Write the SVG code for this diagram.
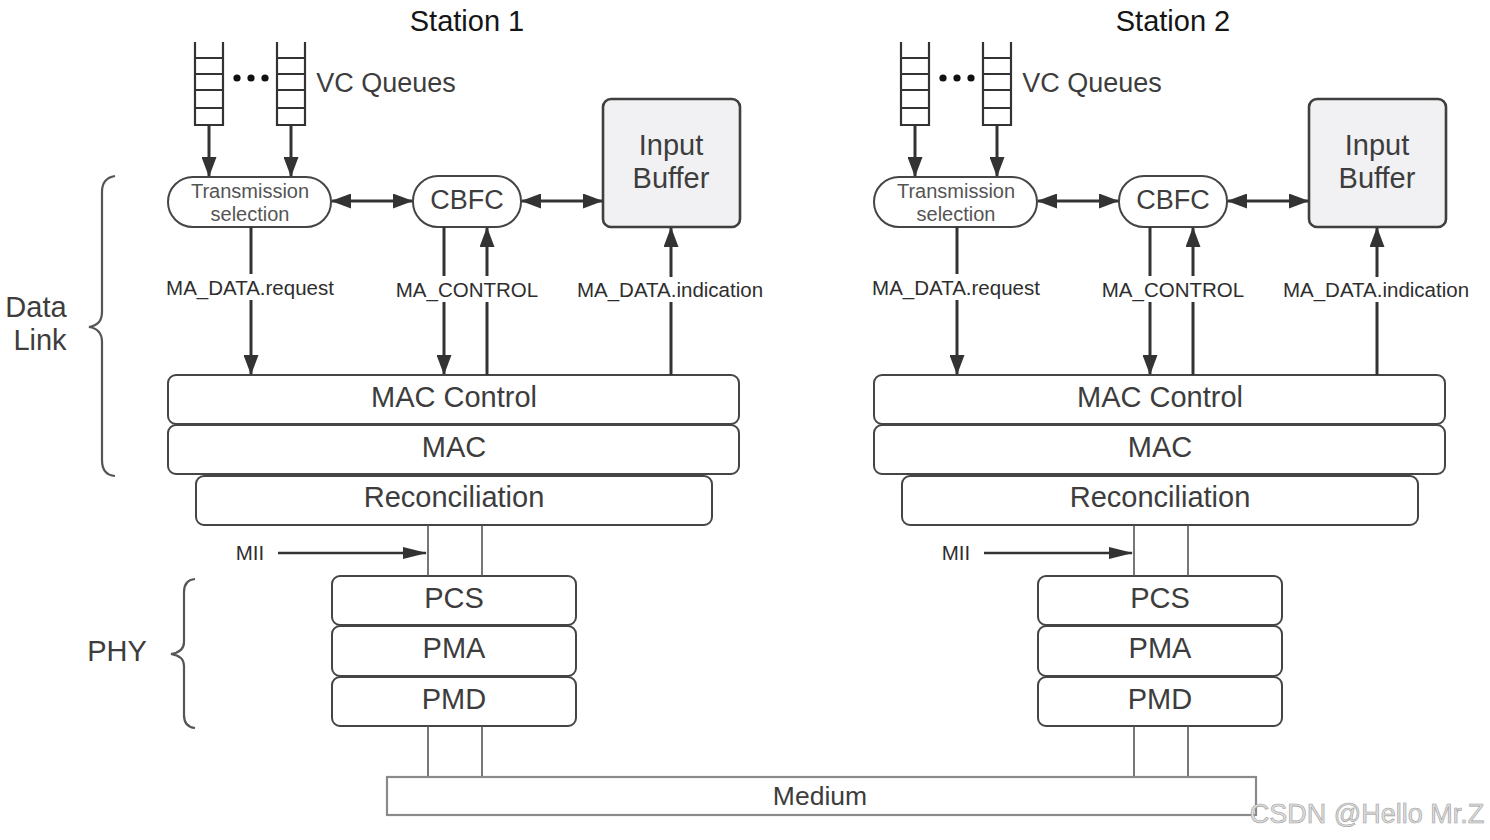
<svg xmlns="http://www.w3.org/2000/svg" width="1490" height="840" viewBox="0 0 1490 840">
<style>
text{font-family:"Liberation Sans",Arial,sans-serif;fill:#3d3d3d;text-anchor:middle;dominant-baseline:central}
.title{font-size:29px;fill:#151515}
.big{font-size:29px}
.mid{font-size:27px}
.sm{font-size:20.5px;fill:#2e2e2e}
.ts{font-size:20px;fill:#555}
.box{fill:#fff;stroke:#454545;stroke-width:2}
.pill{fill:#fff;stroke:#454545;stroke-width:2}
.ib{fill:#f1f1f3;stroke:#3f3f3f;stroke-width:2.6}
.q{fill:none;stroke:#333;stroke-width:2.2}
.arr{fill:none;stroke:#333;stroke-width:3}
.thin{fill:none;stroke:#555;stroke-width:1.6}
.brace{fill:none;stroke:#555;stroke-width:2.2}
.med{fill:#fff;stroke:#8a8a8a;stroke-width:2.2}
</style>
<defs>
<marker id="ah" viewBox="0 0 20 15" refX="19" refY="7.5" markerWidth="20" markerHeight="15" markerUnits="userSpaceOnUse" orient="auto-start-reverse"><path d="M0,0 L20,7.5 L0,15 z" fill="#333"/></marker>
<marker id="ahs" viewBox="0 0 24 12" refX="23" refY="6" markerWidth="24" markerHeight="12" markerUnits="userSpaceOnUse" orient="auto"><path d="M0,0 L24,6 L0,12 z" fill="#333"/></marker>
</defs>
<rect width="1490" height="840" fill="#fff"/>

<!-- Side labels -->
<g id="datalink-brace">
<path class="brace" d="M115,176 Q102,178 102,192 L102,312 Q102,325 89,327 Q102,329 102,342 L102,460 Q102,475 115,476"/>
<text class="big" x="36" y="307">Data</text>
<text class="big" x="40" y="340">Link</text>
</g>
<g id="phy-brace">
<path class="brace" d="M195,579 Q184,580 184,592 L184,642 Q184,652 171,654 Q184,656 184,666 L184,715 Q184,727 195,728"/>
<text class="big" x="117" y="651">PHY</text>
</g>

<!-- Station 1 -->
<g id="station1">
<g id="s1-title"><text class="title" x="467" y="21">Station 1</text></g>
<g id="s1-queues">
<path class="q" d="M195,42 V125 H223 V42 M195,58 H223 M195,74 H223 M195,90 H223 M195,108 H223"/>
<path class="q" d="M277,42 V125 H305 V42 M277,58 H305 M277,74 H305 M277,90 H305 M277,108 H305"/>
<circle cx="237" cy="78" r="3.6" fill="#111"/><circle cx="251" cy="78" r="3.6" fill="#111"/><circle cx="265" cy="78" r="3.6" fill="#111"/>
<text class="mid" x="386" y="83">VC Queues</text>
</g>
<g id="s1-ts"><rect class="pill" x="168" y="177" width="163" height="50" rx="25"/><text class="ts" x="250" y="191">Transmission</text><text class="ts" x="250" y="214">selection</text></g>
<g id="s1-cbfc"><rect class="pill" x="413" y="176" width="108" height="51" rx="25"/><text class="mid" x="467" y="200">CBFC</text></g>
<g id="s1-ib"><rect class="ib" x="603" y="99" width="137" height="128" rx="8"/><text class="big" x="671" y="145">Input</text><text class="big" x="671" y="178">Buffer</text></g>
<g id="s1-macctl"><rect class="box" x="168" y="375" width="571" height="49" rx="8"/><text class="big" x="454" y="397">MAC Control</text></g>
<g id="s1-mac"><rect class="box" x="168" y="425" width="571" height="49" rx="8"/><text class="big" x="454" y="447">MAC</text></g>
<g id="s1-recon"><rect class="box" x="196" y="476" width="516" height="49" rx="8"/><text class="big" x="454" y="497">Reconciliation</text></g>
<g id="s1-pcs"><rect class="box" x="332" y="576" width="244" height="49" rx="8"/><text class="big" x="454" y="598">PCS</text></g>
<g id="s1-pma"><rect class="box" x="332" y="626" width="244" height="50" rx="8"/><text class="big" x="454" y="648">PMA</text></g>
<g id="s1-pmd"><rect class="box" x="332" y="677" width="244" height="49" rx="8"/><text class="big" x="454" y="699">PMD</text></g>
<g id="s1-connectors">
<line class="arr" x1="209" y1="125" x2="209" y2="176" marker-end="url(#ah)"/>
<line class="arr" x1="291" y1="125" x2="291" y2="176" marker-end="url(#ah)"/>
<line class="arr" x1="332" y1="201" x2="412" y2="201" marker-start="url(#ah)" marker-end="url(#ah)"/>
<line class="arr" x1="522" y1="201" x2="602" y2="201" marker-start="url(#ah)" marker-end="url(#ah)"/>
<line class="arr" x1="251" y1="227" x2="251" y2="274"/>
<line class="arr" x1="251" y1="300" x2="251" y2="374" marker-end="url(#ah)"/>
<line class="arr" x1="444" y1="227" x2="444" y2="276"/>
<line class="arr" x1="444" y1="302" x2="444" y2="374" marker-end="url(#ah)"/>
<line class="arr" x1="487" y1="375" x2="487" y2="302"/>
<line class="arr" x1="487" y1="276" x2="487" y2="228" marker-end="url(#ah)"/>
<line class="arr" x1="671" y1="375" x2="671" y2="302"/>
<line class="arr" x1="671" y1="277" x2="671" y2="228" marker-end="url(#ah)"/>
<text class="sm" x="250" y="287">MA_DATA.request</text>
<text class="sm" x="467" y="289">MA_CONTROL</text>
<text class="sm" x="670" y="289">MA_DATA.indication</text>
<line class="arr" style="stroke-width:2.4" x1="278" y1="553" x2="426" y2="553" marker-end="url(#ahs)"/>
<text class="sm" x="250" y="552">MII</text>
<line class="thin" x1="428" y1="525" x2="428" y2="576"/>
<line class="thin" x1="482" y1="525" x2="482" y2="576"/>
<line class="thin" x1="428" y1="726" x2="428" y2="777"/>
<line class="thin" x1="482" y1="726" x2="482" y2="777"/>
</g>
</g>

<!-- Station 2 -->
<g id="station2" transform="translate(706,0)">
<g id="s2-title"><text class="title" x="467" y="21">Station 2</text></g>
<g id="s2-queues">
<path class="q" d="M195,42 V125 H223 V42 M195,58 H223 M195,74 H223 M195,90 H223 M195,108 H223"/>
<path class="q" d="M277,42 V125 H305 V42 M277,58 H305 M277,74 H305 M277,90 H305 M277,108 H305"/>
<circle cx="237" cy="78" r="3.6" fill="#111"/><circle cx="251" cy="78" r="3.6" fill="#111"/><circle cx="265" cy="78" r="3.6" fill="#111"/>
<text class="mid" x="386" y="83">VC Queues</text>
</g>
<g id="s2-ts"><rect class="pill" x="168" y="177" width="163" height="50" rx="25"/><text class="ts" x="250" y="191">Transmission</text><text class="ts" x="250" y="214">selection</text></g>
<g id="s2-cbfc"><rect class="pill" x="413" y="176" width="108" height="51" rx="25"/><text class="mid" x="467" y="200">CBFC</text></g>
<g id="s2-ib"><rect class="ib" x="603" y="99" width="137" height="128" rx="8"/><text class="big" x="671" y="145">Input</text><text class="big" x="671" y="178">Buffer</text></g>
<g id="s2-macctl"><rect class="box" x="168" y="375" width="571" height="49" rx="8"/><text class="big" x="454" y="397">MAC Control</text></g>
<g id="s2-mac"><rect class="box" x="168" y="425" width="571" height="49" rx="8"/><text class="big" x="454" y="447">MAC</text></g>
<g id="s2-recon"><rect class="box" x="196" y="476" width="516" height="49" rx="8"/><text class="big" x="454" y="497">Reconciliation</text></g>
<g id="s2-pcs"><rect class="box" x="332" y="576" width="244" height="49" rx="8"/><text class="big" x="454" y="598">PCS</text></g>
<g id="s2-pma"><rect class="box" x="332" y="626" width="244" height="50" rx="8"/><text class="big" x="454" y="648">PMA</text></g>
<g id="s2-pmd"><rect class="box" x="332" y="677" width="244" height="49" rx="8"/><text class="big" x="454" y="699">PMD</text></g>
<g id="s2-connectors">
<line class="arr" x1="209" y1="125" x2="209" y2="176" marker-end="url(#ah)"/>
<line class="arr" x1="291" y1="125" x2="291" y2="176" marker-end="url(#ah)"/>
<line class="arr" x1="332" y1="201" x2="412" y2="201" marker-start="url(#ah)" marker-end="url(#ah)"/>
<line class="arr" x1="522" y1="201" x2="602" y2="201" marker-start="url(#ah)" marker-end="url(#ah)"/>
<line class="arr" x1="251" y1="227" x2="251" y2="274"/>
<line class="arr" x1="251" y1="300" x2="251" y2="374" marker-end="url(#ah)"/>
<line class="arr" x1="444" y1="227" x2="444" y2="276"/>
<line class="arr" x1="444" y1="302" x2="444" y2="374" marker-end="url(#ah)"/>
<line class="arr" x1="487" y1="375" x2="487" y2="302"/>
<line class="arr" x1="487" y1="276" x2="487" y2="228" marker-end="url(#ah)"/>
<line class="arr" x1="671" y1="375" x2="671" y2="302"/>
<line class="arr" x1="671" y1="277" x2="671" y2="228" marker-end="url(#ah)"/>
<text class="sm" x="250" y="287">MA_DATA.request</text>
<text class="sm" x="467" y="289">MA_CONTROL</text>
<text class="sm" x="670" y="289">MA_DATA.indication</text>
<line class="arr" style="stroke-width:2.4" x1="278" y1="553" x2="426" y2="553" marker-end="url(#ahs)"/>
<text class="sm" x="250" y="552">MII</text>
<line class="thin" x1="428" y1="525" x2="428" y2="576"/>
<line class="thin" x1="482" y1="525" x2="482" y2="576"/>
<line class="thin" x1="428" y1="726" x2="428" y2="777"/>
<line class="thin" x1="482" y1="726" x2="482" y2="777"/>
</g>
</g>

<g id="medium"><rect class="med" x="387" y="777" width="869" height="38"/><text style="font-size:26.5px" x="820" y="796">Medium</text></g>
<text x="1367" y="814" style="font-size:27px;fill:#dedede;stroke:#9c9c9c;stroke-width:0.6">CSDN @Hello Mr.Z</text>
</svg>
